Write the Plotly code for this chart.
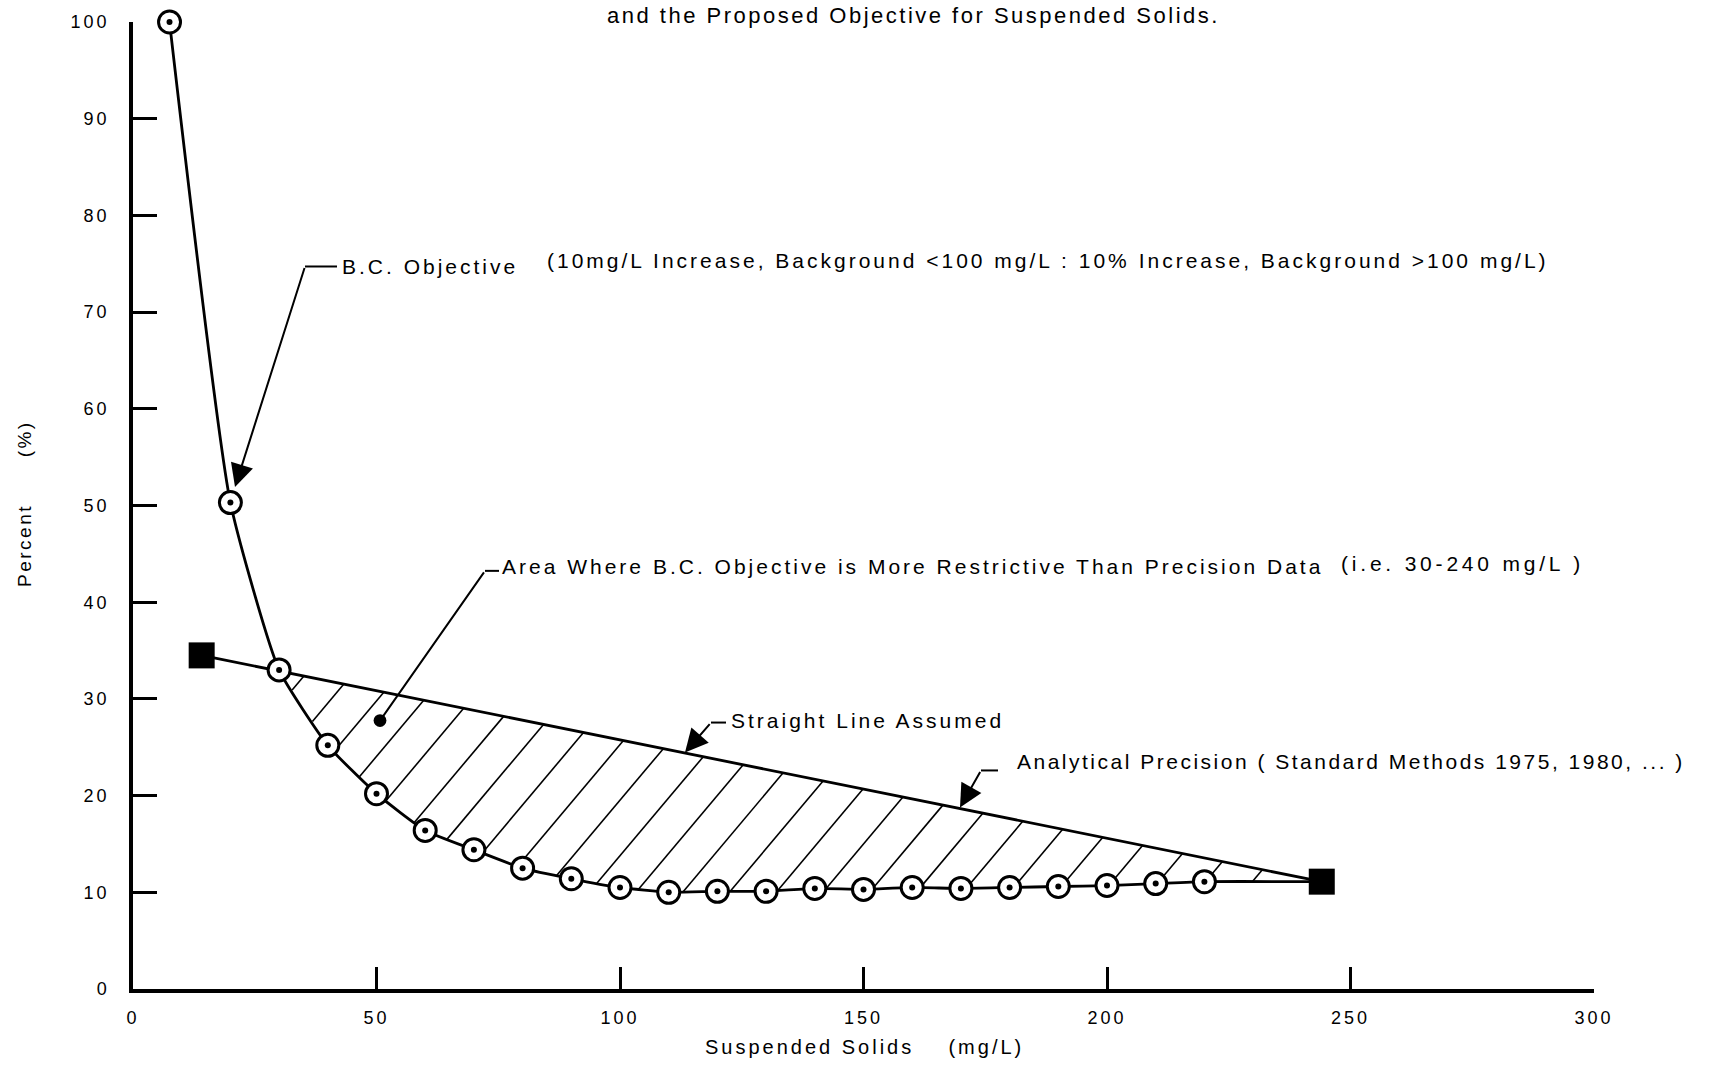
import math
import plotly.graph_objects as go

# ---------------- data ----------------
bc_x = [7.5, 20, 30, 40, 50, 60, 70, 80, 90, 100, 110, 120, 130, 140, 150,
        160, 170, 180, 190, 200, 210, 220]
bc_y = [100.0, 50.3, 33.0, 25.2, 20.2, 16.4, 14.4, 12.5, 11.4, 10.5, 10.0,
        10.1, 10.1, 10.4, 10.3, 10.5, 10.4, 10.5, 10.6, 10.7, 10.9, 11.1]
prec_x = [14.1, 244.1]
prec_y = [34.5, 11.1]
x_ticks = [0, 50, 100, 150, 200, 250, 300]
y_ticks = [0, 10, 20, 30, 40, 50, 60, 70, 80, 90, 100]

# ---------------- layout constants ----------------
W, H = 1710, 1067
ML, MR, MT, MB = 133, 116, 20, 78
PLOT_W, PLOT_H = W - ML - MR, H - MT - MB
X_RANGE = [0, 300]
Y_RANGE = [0, 100]
PX_X = PLOT_W / (X_RANGE[1] - X_RANGE[0])
PX_Y = PLOT_H / (Y_RANGE[1] - Y_RANGE[0])

FONT = "Liberation Sans, Arial, sans-serif"
LS = "letter-spacing:3px"


def sp(t, ls=LS):
    return f'<span style="{ls}">{t}</span>'


# ---------------- hatch lines of the shaded area ----------------
HATCH_ANGLE = 50.0      # degrees, in screen space
HATCH_STEP = 8.2        # data units between hatch lines along x
HATCH_PHASE = 174.5
HATCH_END = 236.0

k = math.tan(math.radians(HATCH_ANGLE)) * PX_X / PX_Y


def upper(x):
    return prec_y[0] + (prec_y[1] - prec_y[0]) * (x - prec_x[0]) / (prec_x[1] - prec_x[0])


low_x = bc_x[2:] + [prec_x[1]]
low_y = bc_y[2:] + [prec_y[1]]

hx, hy = [], []
xt = HATCH_PHASE
while xt - HATCH_STEP > low_x[0]:
    xt -= HATCH_STEP
while xt < HATCH_END:
    yt = upper(xt)
    found = None
    for j in range(len(low_x) - 1, 0, -1):
        xa, xb = low_x[j - 1], low_x[j]
        if xa >= xt:
            continue
        xb2 = min(xb, xt)
        fa = low_y[j - 1]
        fb = low_y[j - 1] + (low_y[j] - low_y[j - 1]) * (xb2 - xa) / (xb - xa)
        ga = yt + k * (xa - xt) - fa
        gb = yt + k * (xb2 - xt) - fb
        if gb >= 0 and ga <= 0:
            t = gb / (gb - ga) if gb != ga else 0
            xi = xb2 - t * (xb2 - xa)
            found = (xi, yt + k * (xi - xt))
            break
    if found:
        hx += [xt, found[0], None]
        hy += [yt, found[1], None]
    xt += HATCH_STEP

fig = go.Figure()

# hatch
fig.add_trace(go.Scatter(x=hx, y=hy, mode="lines",
                         line=dict(color="black", width=1.6),
                         hoverinfo="skip", showlegend=False))
# precision straight line
fig.add_trace(go.Scatter(x=prec_x, y=prec_y, mode="lines",
                         line=dict(color="black", width=2.8),
                         showlegend=False))
# B.C. objective curve (continues to the precision end point)
fig.add_trace(go.Scatter(x=bc_x + [prec_x[1]], y=bc_y + [prec_y[1]], mode="lines",
                         line=dict(color="black", width=2.8, shape="spline", smoothing=0.5),
                         showlegend=False, cliponaxis=False))
# precision squares
fig.add_trace(go.Scatter(x=prec_x, y=prec_y, mode="markers",
                         marker=dict(symbol="square", size=26, color="black"),
                         showlegend=False, cliponaxis=False))
# B.C. circles
fig.add_trace(go.Scatter(x=bc_x, y=bc_y, mode="markers",
                         marker=dict(symbol="circle", size=22, color="white",
                                     line=dict(color="black", width=3)),
                         showlegend=False, cliponaxis=False))
fig.add_trace(go.Scatter(x=bc_x, y=bc_y, mode="markers",
                         marker=dict(symbol="circle", size=6, color="black"),
                         showlegend=False, cliponaxis=False))


def X(px):
    return (px - ML) / PX_X


def Y(py):
    return (H - MB - py) / PX_Y


annotations = []
shapes = []


def leader(tip, elbow, hend, head=2):
    annotations.append(dict(x=X(tip[0]), y=Y(tip[1]), ax=X(elbow[0]), ay=Y(elbow[1]),
                            xref="x", yref="y", axref="x", ayref="y", text="",
                            showarrow=True, arrowhead=head, arrowsize=2.3 if head != 6 else 1.6,
                            arrowwidth=2, arrowcolor="black", standoff=0))
    shapes.append(dict(type="line", xref="x", yref="y",
                       x0=X(elbow[0]), y0=Y(elbow[1]), x1=X(hend), y1=Y(elbow[1]),
                       line=dict(color="black", width=2)))


def label(px, py, text, size=21, ls=LS, anchor="left"):
    annotations.append(dict(x=X(px), y=Y(py), xref="x", yref="y", text=sp(text, ls),
                            showarrow=False, xanchor=anchor, yanchor="middle",
                            font=dict(family=FONT, size=size, color="black")))


NB = "\u00a0"

leader((235, 486), (305, 265), 337)
label(340, 265, "B.C. Objective")
label(545, 259, "(10mg/L Increase, Background &lt;100 mg/L : 10% Increase, Background &gt;100 mg/L)")

leader((380, 720), (485, 570), 499, head=6)
label(500, 566, "Area Where B.C. Objective is More Restrictive Than Precision Data")
label(1339, 563, "(i.e. 30-240 mg/L )", ls="letter-spacing:3.8px")

leader((685, 752), (711, 722), 726)
label(729, 720, "Straight Line Assumed")

leader((960, 807), (981, 770), 998)
label(1015, 761, "Analytical Precision ( Standard Methods 1975, 1980, ... )",
      ls="letter-spacing:2.5px")

# title line at the top edge
annotations.append(dict(x=(913 - ML) / PLOT_W, y=1 + (MT - 13) / PLOT_H, xref="paper", yref="paper",
                        text=sp("and the Proposed Objective for Suspended Solids.", "letter-spacing:2.5px"),
                        showarrow=False, xanchor="center", yanchor="middle",
                        font=dict(family=FONT, size=22, color="black")))
# axis titles
annotations.append(dict(x=(864 - ML) / PLOT_W, y=(H - MB - 1047) / PLOT_H, xref="paper", yref="paper",
                        text=sp("Suspended Solids" + NB * 4 + "(mg/L)"),
                        showarrow=False, xanchor="center", yanchor="middle",
                        font=dict(family=FONT, size=20, color="black")))
annotations.append(dict(x=(24 - ML) / PLOT_W, y=(H - MB - 503) / PLOT_H, xref="paper", yref="paper",
                        text=sp("Percent" + NB * 6 + "(%)", "letter-spacing:2.5px"), textangle=-90,
                        showarrow=False, xanchor="center", yanchor="middle",
                        font=dict(family=FONT, size=19, color="black")))

fig.update_layout(
    width=W, height=H,
    margin=dict(l=ML, r=MR, t=MT, b=MB, pad=0),
    paper_bgcolor="white", plot_bgcolor="white",
    showlegend=False,
    annotations=annotations, shapes=shapes,
    font=dict(family=FONT, size=18, color="black"),
)
fig.update_xaxes(range=X_RANGE, showgrid=False, zeroline=False, showline=True,
                 linecolor="black", linewidth=3.5, ticks="inside", ticklen=22,
                 tickwidth=3, tickcolor="black", tickvals=x_ticks,
                 ticktext=[sp(str(v), "letter-spacing:3px") for v in x_ticks],
                 tickfont=dict(family=FONT, size=18, color="black"),
                 ticklabelstandoff=10)
fig.update_yaxes(range=Y_RANGE, showgrid=False, zeroline=False, showline=True,
                 linecolor="black", linewidth=3.5, ticks="inside", ticklen=24,
                 tickwidth=3, tickcolor="black", tickvals=y_ticks,
                 ticktext=[sp(str(v), "letter-spacing:3px") for v in y_ticks],
                 tickfont=dict(family=FONT, size=18, color="black"),
                 ticklabelstandoff=16)

fig.write_html("out.html", config={"displayModeBar": False},
               post_script="document.body.style.margin='0';")
